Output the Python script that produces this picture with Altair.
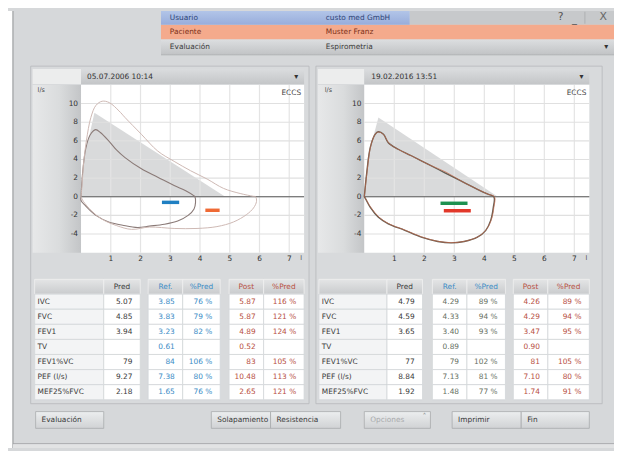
import altair as alt
import pandas as pd

# ------------------------------------------------------------------ data
metrics = ["IVC", "FVC", "FEV1", "TV", "FEV1%VC", "PEF (l/s)", "MEF25%FVC"]

left_pred     = ["5.07", "4.85", "3.94", "", "79", "9.27", "2.18"]
left_ref      = ["3.85", "3.83", "3.23", "0.61", "84", "7.38", "1.65"]
left_ref_pct  = ["76 %", "79 %", "82 %", "", "106 %", "80 %", "76 %"]
left_post     = ["5.87", "5.87", "4.89", "0.52", "83", "10.48", "2.65"]
left_post_pct = ["116 %", "121 %", "124 %", "", "105 %", "113 %", "121 %"]

right_pred     = ["4.79", "4.59", "3.65", "", "77", "8.84", "1.92"]
right_ref      = ["4.29", "4.33", "3.40", "0.89", "79", "7.13", "1.48"]
right_ref_pct  = ["89 %", "94 %", "93 %", "", "102 %", "81 %", "77 %"]
right_post     = ["4.26", "4.29", "3.47", "0.90", "81", "7.10", "1.74"]
right_post_pct = ["89 %", "94 %", "95 %", "", "105 %", "80 %", "91 %"]

col_headers = ["Pred", "Ref.", "%Pred", "Post", "%Pred"]

x_ticks = [1, 2, 3, 4, 5, 6, 7]
y_ticks = [-4, -2, 0, 2, 4, 6, 8, 10]

# flow-volume loops (volume l, flow l/s)
left_ref_vol  = [0, 0.05, 0.15, 0.3, 0.49, 0.65, 0.93, 1.2, 1.48, 2.03, 2.58, 3.13, 3.52, 3.8, 3.83,
                 3.85, 3.8, 3.6, 3.25, 2.8, 2.3, 1.9, 1.4, 0.93, 0.5, 0.16, 0.0, 0.0]
left_ref_flow = [0, 2.5, 5.0, 6.6, 7.2, 6.9, 6.0, 5.0, 4.2, 3.0, 2.1, 1.2, 0.65, 0.1, 0,
                 -0.6, -1.3, -2.0, -2.6, -2.95, -3.15, -3.3, -3.05, -2.7, -2.0, -1.0, -0.4, 0]
left_post_vol  = [0, 0.04, 0.08, 0.18, 0.33, 0.5, 0.71, 0.95, 1.28, 1.48, 2.03, 2.58, 3.13, 3.68, 4.24,
                  4.79, 5.35, 5.79, 5.87, 5.9, 5.8, 5.57, 5.13, 4.57, 3.9, 3.13, 2.3, 1.7, 1.2, 0.7,
                  0.35, 0.08, 0]
left_post_flow = [0, 1.5, 3.4, 6.0, 8.5, 9.8, 10.25, 10.1, 9.2, 8.5, 6.7, 4.9, 3.8, 2.8, 1.9,
                  0.9, 0.35, 0.05, 0, -0.5, -1.2, -1.9, -2.7, -3.2, -3.4, -3.4, -3.25, -3.5, -3.1, -2.4,
                  -1.5, -0.5, 0]
left_pred_vol  = [0, 0.1, 0.45, 4.85]
left_pred_flow = [0, 4.0, 9.0, 0]

right_ref_vol  = [0, 0.09, 0.2, 0.36, 0.47, 0.64, 0.8, 1.13, 1.57, 2.12, 2.67, 3.22, 3.77, 4.1, 4.32,
                  4.3, 4.21, 4.05, 3.77, 3.33, 2.89, 2.45, 1.9, 1.35, 0.8, 0.47, 0.2, 0.03, 0]
right_ref_flow = [0, 2.8, 5.3, 6.7, 6.97, 6.7, 5.8, 5.1, 4.4, 3.5, 2.6, 1.7, 0.8, 0.3, 0,
                  -1.14, -2.56, -3.6, -4.34, -4.8, -4.95, -4.8, -4.34, -3.6, -2.9, -2.2, -1.14, -0.14, 0]
right_post_vol  = [0, 0.1, 0.21, 0.37, 0.48, 0.65, 0.82, 1.15, 1.6, 2.15, 2.72, 3.25, 3.79, 4.12, 4.34,
                   4.32, 4.23, 4.06, 3.78, 3.34, 2.9, 2.46, 1.91, 1.36, 0.81, 0.48, 0.21, 0.03, 0]
right_post_flow = [0, 2.9, 5.4, 6.75, 6.95, 6.65, 5.75, 5.05, 4.35, 3.45, 2.65, 1.65, 0.78, 0.28, 0,
                   -1.1, -2.5, -3.55, -4.3, -4.78, -4.92, -4.78, -4.3, -3.58, -2.88, -2.15, -1.1, -0.12, 0]
right_pred_vol  = [0, 0.1, 0.47, 4.45]
right_pred_flow = [0, 4.0, 8.5, 0]

# tidal markers: (vol start, vol end, flow)
left_bars  = [(2.72, 3.30, -0.6, "#1f7fc2"), (4.18, 4.66, -1.45, "#ef6a35")]
right_bars = [(2.54, 3.44, -0.7, "#1d9150"), (2.65, 3.55, -1.5, "#e2382a")]

X_MIN, X_MAX = 0, 7.5
Y_MIN, Y_MAX = -6, 12

# ------------------------------------------------------------------ layout (page pixels)
W, H = 614, 443
OX, OY = 8, 8
FONT = "DejaVu Sans"


def sx():
    return alt.Scale(domain=[OX, OX + W], range=[0, W], nice=False, zero=False)


def sy():
    return alt.Scale(domain=[OY, OY + H], range=[0, H], nice=False, zero=False)


def rects(rows):
    df = pd.DataFrame(rows, columns=["x", "x2", "y", "y2", "fill", "stroke", "sw"])
    return alt.Chart(df).mark_rect().encode(
        x=alt.X("x:Q", scale=sx(), axis=None),
        x2="x2:Q",
        y=alt.Y("y:Q", scale=sy(), axis=None),
        y2="y2:Q",
        fill=alt.Fill("fill:N", scale=None),
        stroke=alt.Stroke("stroke:N", scale=None),
        strokeWidth=alt.StrokeWidth("sw:Q", scale=None),
    )


def grad_rects(rows, stops, horizontal=False, stroke="transparent"):
    df = pd.DataFrame(rows, columns=["x", "x2", "y", "y2"])
    g = alt.Gradient(
        gradient="linear",
        stops=[alt.GradientStop(color=c, offset=o) for o, c in stops],
        x1=0, x2=1 if horizontal else 0, y1=0, y2=0 if horizontal else 1,
    )
    return alt.Chart(df).mark_rect(fill=g, stroke=stroke, strokeWidth=0.8).encode(
        x=alt.X("x:Q", scale=sx(), axis=None),
        x2="x2:Q",
        y=alt.Y("y:Q", scale=sy(), axis=None),
        y2="y2:Q",
    )


def texts(rows, align="left", weight="normal"):
    df = pd.DataFrame(rows, columns=["x", "y", "t", "c", "s"])
    return alt.Chart(df).mark_text(align=align, baseline="middle", font=FONT, fontWeight=weight).encode(
        x=alt.X("x:Q", scale=sx(), axis=None),
        y=alt.Y("y:Q", scale=sy(), axis=None),
        text="t:N",
        color=alt.Color("c:N", scale=None),
        size=alt.Size("s:Q", scale=None),
    )


layers = []

# page chrome -------------------------------------------------------
layers.append(rects([
    (8, 13, 8, 451, "#ffffff", "transparent", 0),
    (12.5, 13.5, 8, 451, "#8e9092", "transparent", 0),
    (13, 622, 446, 447, "#a3a5a7", "transparent", 0),
    (13, 622, 447, 451, "#e2e3e4", "transparent", 0),
    # panels
    (31, 313, 64, 406, "#d8dadc", "#b6b8ba", 0.8),
    (320, 610, 64, 406, "#d8dadc", "#b6b8ba", 0.8),
    # small boxes left of date bar
    (33, 82, 67, 82, "#eceded", "transparent", 0),
    (322, 369, 67, 82, "#eceded", "transparent", 0),
    # header rows
    (415, 622, 8, 22, "#c7c9cb", "transparent", 0),
    (592, 593, 9, 21, "#aeb0b2", "transparent", 0),
    (163, 622, 22, 37, "#f4aa8c", "transparent", 0),
    (163, 622, 52, 53, "#a9abad", "transparent", 0),
]))
layers.append(grad_rects([(163, 415, 8, 22)], [(0, "#b2c5e8"), (1, "#98addb")]))
layers.append(grad_rects([(163, 622, 37, 52)], [(0, "#dcdee0"), (1, "#c2c4c6")]))
# date bars
layers.append(grad_rects([(82, 308, 67, 82), (369, 597, 67, 82)], [(0, "#dadcde"), (1, "#c4c6c8")]))
# y-axis strips (light at the left, darker towards the plot)
layers.append(grad_rects([(33, 82, 83, 253), (322, 369, 83, 253)],
                         [(0, "#e7e8e9"), (0.55, "#dadcdd"), (1, "#c3c5c7")], horizontal=True))
# plot backgrounds
layers.append(rects([
    (82, 308, 83, 253, "#ffffff", "transparent", 0),
    (369, 597, 83, 253, "#ffffff", "transparent", 0),
]))

# ------------------------------------------------------------------ flow-volume plots
def plot(left, right, top, bottom, pred_v, pred_f, curves, bars):
    def xs():
        return alt.Scale(domain=[X_MIN, X_MAX], range=[left - OX, right - OX], nice=False, zero=False)

    def ys():
        return alt.Scale(domain=[Y_MIN, Y_MAX], range=[bottom - OY, top - OY], nice=False, zero=False)

    out = []
    shade = pd.DataFrame({"v": pred_v, "f": pred_f})
    out.append(alt.Chart(shade).mark_area(color="#d9dadb", opacity=1).encode(
        x=alt.X("v:Q", scale=xs(), axis=None),
        y=alt.Y("f:Q", scale=ys(), axis=None),
        y2=alt.datum(0),
    ))
    vg = pd.DataFrame({"v": x_ticks, "a": Y_MIN, "b": Y_MAX})
    out.append(alt.Chart(vg).mark_rule(color="#e4e4e4", strokeWidth=1.2).encode(
        x=alt.X("v:Q", scale=xs(), axis=None),
        y=alt.Y("a:Q", scale=ys(), axis=None), y2="b:Q"))
    hg = pd.DataFrame({"f": y_ticks, "a": X_MIN, "b": X_MAX})
    out.append(alt.Chart(hg).mark_rule(color="#e0e0e0", strokeWidth=1.1).encode(
        y=alt.Y("f:Q", scale=ys(), axis=None),
        x=alt.X("a:Q", scale=xs(), axis=None), x2="b:Q"))
    zl = pd.DataFrame({"f": [0], "a": [X_MIN], "b": [X_MAX]})
    out.append(alt.Chart(zl).mark_rule(color="#5a5a5a", strokeWidth=1.1).encode(
        y=alt.Y("f:Q", scale=ys(), axis=None),
        x=alt.X("a:Q", scale=xs(), axis=None), x2="b:Q"))
    for vol, flow, col, w in curves:
        d = pd.DataFrame({"v": vol, "f": flow, "i": range(len(vol))})
        out.append(alt.Chart(d).mark_line(color=col, strokeWidth=w, interpolate="catmull-rom").encode(
            x=alt.X("v:Q", scale=xs(), axis=None),
            y=alt.Y("f:Q", scale=ys(), axis=None),
            order="i:Q"))
    bd = pd.DataFrame(bars, columns=["a", "b", "f", "c"])
    out.append(alt.Chart(bd).mark_rule(strokeWidth=3.5).encode(
        x=alt.X("a:Q", scale=xs(), axis=None), x2="b:Q",
        y=alt.Y("f:Q", scale=ys(), axis=None),
        color=alt.Color("c:N", scale=None)))
    # tick labels
    xl = pd.DataFrame({"v": x_ticks})
    out.append(alt.Chart(xl).mark_text(font=FONT, fontSize=7.5, color="#333", baseline="top", dy=2).encode(
        x=alt.X("v:Q", scale=xs(), axis=None),
        y=alt.Y(datum=Y_MIN, scale=ys(), axis=None),
        text="v:N"))
    yl = pd.DataFrame({"f": y_ticks})
    out.append(alt.Chart(yl).mark_text(font=FONT, fontSize=7.5, color="#333", align="right", dx=-3).encode(
        y=alt.Y("f:Q", scale=ys(), axis=None),
        x=alt.X(datum=X_MIN, scale=xs(), axis=None),
        text="f:N"))
    return out


layers += plot(82, 308, 83, 253, left_pred_vol, left_pred_flow,
               [(left_ref_vol, left_ref_flow, "#8a7a77", 1.1),
                (left_post_vol, left_post_flow, "#cdb8b3", 1.0)], left_bars)
layers += plot(369, 597, 83, 253, right_pred_vol, right_pred_flow,
               [(right_ref_vol, right_ref_flow, "#625d52", 1.4),
                (right_post_vol, right_post_flow, "#c4684a", 0.7)], right_bars)

# ------------------------------------------------------------------ tables
ROW_TOP, ROW_BOTTOM, HEAD_TOP = 295, 402, 280
BLUE, RED, DARK = "#3b8cc6", "#b8503f", "#3a3a3a"


def table(cols, pred, ref, ref_pct, post, post_pct, ref_color):
    def yb():
        return alt.Scale(type="band", domain=metrics, range=[ROW_TOP - OY, ROW_BOTTOM - OY],
                         paddingInner=0, paddingOuter=0)

    out = []
    keys = ["label", "pred", "ref", "refp", "post", "postp"]
    out.append(grad_rects([(cols[k][0], cols[k][1], HEAD_TOP, ROW_TOP) for k in keys],
                          [(0, "#e4e5e6"), (1, "#c9cbcd")], stroke="#f0f0f0"))
    cells = []
    for k in keys:
        for m in metrics:
            cells.append({"m": m, "a": cols[k][0], "b": cols[k][1],
                          "fill": "#f3f4f5" if k == "label" else "#ffffff"})
    out.append(alt.Chart(pd.DataFrame(cells)).mark_rect(stroke="#d3d6d9", strokeWidth=0.8).encode(
        x=alt.X("a:Q", scale=sx(), axis=None), x2="b:Q",
        y=alt.Y("m:N", scale=yb(), axis=None),
        fill=alt.Fill("fill:N", scale=None)))
    hc = [DARK, BLUE, BLUE, RED, RED]
    out.append(texts([((cols[k][0] + cols[k][1]) / 2, (HEAD_TOP + ROW_TOP) / 2, h, c, 7.5)
                      for k, h, c in zip(keys[1:], col_headers, hc)], align="center"))
    vals = []
    for k, arr, c in [("pred", pred, DARK), ("ref", ref, ref_color), ("refp", ref_pct, ref_color),
                      ("post", post, RED), ("postp", post_pct, RED)]:
        for m, t in zip(metrics, arr):
            vals.append({"m": m, "x": cols[k][1] - 8, "t": t, "c": c})
    out.append(alt.Chart(pd.DataFrame(vals)).mark_text(align="right", font=FONT, fontSize=7.5).encode(
        x=alt.X("x:Q", scale=sx(), axis=None),
        y=alt.Y("m:N", scale=yb(), axis=None, bandPosition=0.5),
        text="t:N", color=alt.Color("c:N", scale=None)))
    lab = pd.DataFrame({"m": metrics, "x": cols["label"][0] + 3})
    out.append(alt.Chart(lab).mark_text(align="left", font=FONT, fontSize=7.5, color=DARK).encode(
        x=alt.X("x:Q", scale=sx(), axis=None),
        y=alt.Y("m:N", scale=yb(), axis=None, bandPosition=0.5),
        text="m:N"))
    return out


LEFT_COLS = dict(label=(35, 105), pred=(105, 142), ref=(150, 185), refp=(185, 223),
                 post=(232, 267), postp=(267, 308))
RIGHT_COLS = dict(label=(323, 392), pred=(392, 428), ref=(438, 473), refp=(473, 512),
                  post=(520, 555), postp=(555, 597))
layers += table(LEFT_COLS, left_pred, left_ref, left_ref_pct, left_post, left_post_pct, BLUE)
layers += table(RIGHT_COLS, right_pred, right_ref, right_ref_pct, right_post, right_post_pct, "#66705f")

# ------------------------------------------------------------------ buttons
buttons = [(36, 105, "Evaluación", DARK), (214, 274, "Solapamiento", DARK), (274, 345, "Resistencia", DARK),
           (369, 436, "Opciones", "#a8aaac"), (458, 528, "Imprimir", DARK), (528, 597, "Fin", DARK)]
BT, BB = 414, 431
layers.append(grad_rects([(a, b, BT, BB) for a, b, _, _ in buttons],
                         [(0, "#eceeef"), (1, "#d0d2d4")], stroke="#a9abad"))
layers.append(texts([(a + 6, (BT + BB) / 2, t, c, 7.5) for a, b, t, c in buttons]))
layers.append(texts([(430, 420, "˄", "#8a8c8e", 8)], align="center"))

# ------------------------------------------------------------------ header / panel texts
layers.append(texts([
    (172, 15, "Usuario", "#2f4577", 7.5),
    (330, 15, "custo med GmbH", "#2f4577", 7.5),
    (172, 29.5, "Paciente", "#7d3118", 7.5),
    (330, 29.5, "Muster Franz", "#7d3118", 7.5),
    (172, 44.5, "Evaluación", "#3a3a3a", 7.5),
    (330, 44.5, "Espirometria", "#3a3a3a", 7.5),
    (88, 75, "05.07.2006 10:14", "#333333", 7.5),
    (376, 75, "19.02.2016 13:51", "#333333", 7.5),
    (38, 88, "l/s", "#444444", 6.5),
    (329, 88, "l/s", "#444444", 6.5),
]))
layers.append(texts([
    (305, 91, "ECCS", "#444444", 7.5),
    (594, 91, "ECCS", "#444444", 7.5),
    (306, 258, "l", "#444444", 6.5),
    (595, 258, "l", "#444444", 6.5),
], align="right"))
layers.append(texts([
    (568, 14, "?", "#555555", 11),
    (582, 16, "_", "#555555", 10),
    (611, 14.5, "X", "#666666", 11),
    (614, 44.5, "▾", "#333333", 8),
    (300, 75, "▾", "#333333", 8),
    (589, 75, "▾", "#333333", 8),
], align="center"))

chart = alt.layer(*layers).resolve_scale(
    x="independent", y="independent"
).properties(
    width=W, height=H, padding=0, autosize=alt.AutoSizeParams(type="none"),
    background="#d6d8da",
).configure_view(stroke=None).configure_text(font=FONT)

chart.save("out.html", embed_options={"renderer": "svg", "actions": False})
